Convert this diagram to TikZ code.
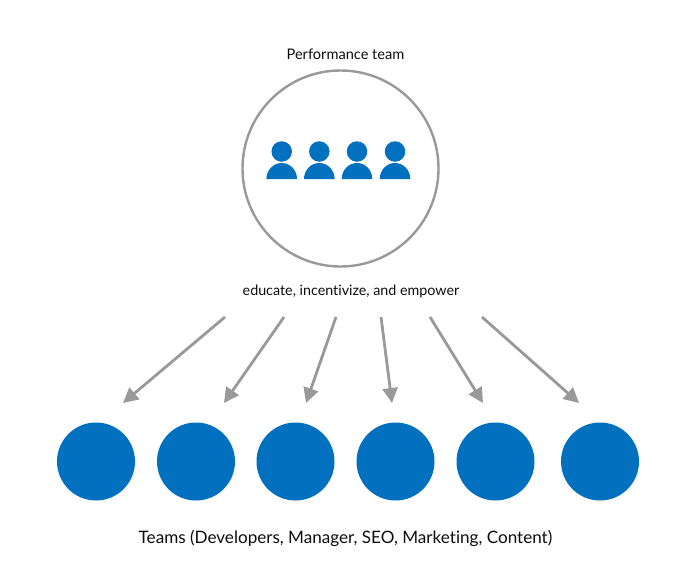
\documentclass[tikz,border=0pt]{standalone}
\usepackage{fontspec}
\setmainfont[Ligatures=NoCommon]{Lato}
\usetikzlibrary{arrows.meta}
\definecolor{blu}{HTML}{0070BF}
\definecolor{gry}{HTML}{999999}
\begin{document}
\begin{tikzpicture}[x=1pt,y=-1pt,
 team/.style={circle,fill=blu,draw=none,minimum size=78pt,inner sep=0pt},
 arr/.style={draw=gry,line width=2.8pt,-{Triangle[length=15pt,width=15pt]},shorten >=0pt},
 lab/.style={inner sep=0pt,text=black!95}]
\useasboundingbox (0,0) rectangle (700,579);
\fill[white] (0,0) rectangle (700,579);
\node[lab,font=\fontsize{14.6}{16}\selectfont] (top) at (345.5,54) {Performance team};
\node[circle,draw=gry,line width=2.4pt,minimum size=196pt,inner sep=0pt] (big) at (340.5,168.5) {};
\foreach \n/\x in {1/281.7,2/319.3,3/357,4/395}{
 \node[circle,fill=blu,minimum size=20.5pt,inner sep=0pt] (h\n) at (\x,151.5) {};
 \fill[blu] (\x-15.3,179) arc[start angle=180,end angle=360,x radius=15.3,y radius=16] -- cycle;
}
\node[lab,font=\fontsize{14.3}{16}\selectfont] (mid) at (351,291) {educate, incentivize, and empower};
\foreach \n/\x in {1/96,2/196,3/295.5,4/395.5,5/495.5,6/600}{
 \node[team] (t\n) at (\x,461.5) {};
}
\node[lab,font=\fontsize{17.1}{20}\selectfont] (bot) at (345.5,538) {Teams (Developers, Manager, SEO, Marketing, Content)};
\coordinate (s1) at (225,317); \coordinate (e1) at (123,403);
\coordinate (s2) at (284,317); \coordinate (e2) at (224,403);
\coordinate (s3) at (336,317); \coordinate (e3) at (306,403);
\coordinate (s4) at (381,317); \coordinate (e4) at (392,403);
\coordinate (s5) at (430,317); \coordinate (e5) at (483,403);
\coordinate (s6) at (482,317); \coordinate (e6) at (579,403);
\foreach \n in {1,...,6}{\draw[arr] (s\n) -- (e\n);}
\end{tikzpicture}
\end{document}
